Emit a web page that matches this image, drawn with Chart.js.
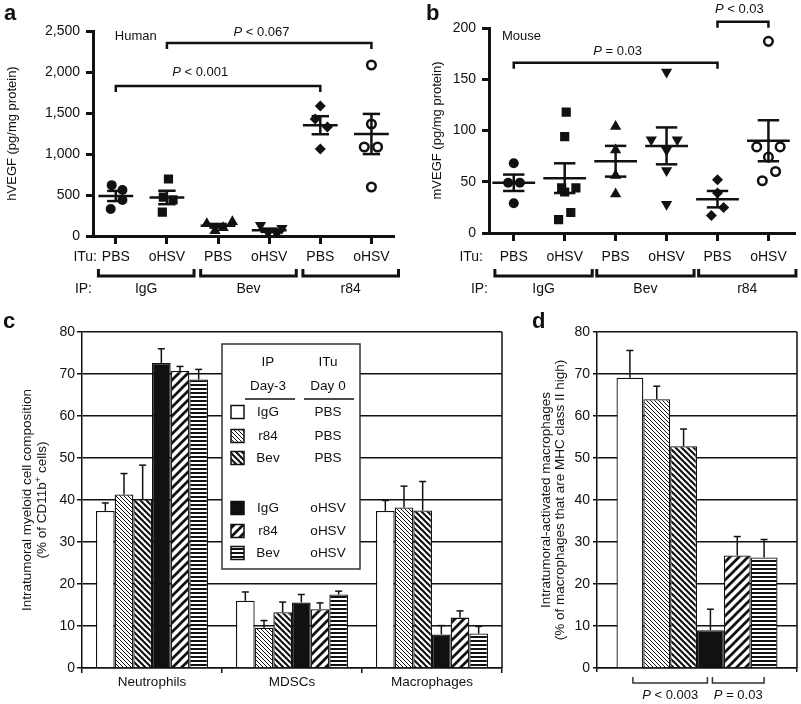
<!DOCTYPE html>
<html>
<head>
<meta charset="utf-8">
<script src="https://cdn.jsdelivr.net/npm/chart.js@4.4.1/dist/chart.umd.min.js"></script>
<style>
  html, body { margin: 0; padding: 0; background: #fff; }
  #fig { position: relative; width: 801px; height: 704px; overflow: hidden; background: #fff; }
  #fig canvas { position: absolute; }
</style>
</head>
<body>
<div id="fig">
  <canvas id="cvA" width="400" height="320" style="left:0;top:0;width:400px;height:320px"></canvas>
  <canvas id="cvB" width="401" height="320" style="left:400px;top:0;width:401px;height:320px"></canvas>
  <canvas id="cvC" width="510" height="404" style="left:0;top:300px;width:510px;height:404px"></canvas>
  <canvas id="cvD" width="291" height="404" style="left:510px;top:300px;width:291px;height:404px"></canvas>
</div>
<script>
// ---- data ----
const ituLabels = ["PBS", "oHSV", "PBS", "oHSV", "PBS", "oHSV"];
const ipLabels = ["IgG", "Bev", "r84"];

// a: human VEGF, one list per group (IgG/PBS, IgG/oHSV, Bev/PBS, Bev/oHSV, r84/PBS, r84/oHSV)
const aPoints = [
  [620, 560, 440, 330],
  [695, 475, 440, 292],
  [150, 65, 100, 175],
  [130, 40, 25, 95],
  [1585, 1427, 1330, 1061],
  [2085, 1366, 1085, 1085, 598],
];
const aJitter = [
  [-0.08, 0.13, 0.13, -0.1],
  [0.03, -0.07, 0.12, -0.09],
  [-0.22, -0.06, 0.1, 0.28],
  [-0.17, -0.02, 0.15, 0.25],
  [0, -0.1, 0.14, 0],
  [0, 0, -0.14, 0.12, 0],
];
const aMean = [488, 470, 125, 70, 1351, 1244];
const aSem = [62, 82, 22, 20, 110, 245];

// b: mouse VEGF
const bPoints = [
  [68, 49, 49, 29],
  [118, 94, 44, 40, 44, 20, 13],
  [104, 81, 56, 38],
  [157, 91, 91, 81, 61, 28],
  [52, 39, 25, 17],
  [187, 84, 84, 74, 60, 51],
];
const bJitter = [
  [0, -0.11, 0.12, 0],
  [0.03, 0, -0.06, 0, 0.22, 0.12, -0.12],
  [0, 0, 0, 0],
  [0, -0.3, 0.21, 0, 0, 0],
  [0, 0, 0.12, -0.12],
  [0, -0.23, 0.23, 0, 0.14, -0.12],
];
const bMean = [49, 53.5, 70, 85, 33, 90];
const bSem = [8, 14.5, 15, 18, 8, 20];

// c: myeloid composition, one row per treatment
const cCats = ["Neutrophils", "MDSCs", "Macrophages"];
const cMeans = [
  [37.4, 16.0, 37.4],
  [41.3, 9.6, 38.2],
  [40.2, 13.3, 37.5],
  [72.6, 15.6, 8.0],
  [70.7, 14.0, 12.0],
  [68.7, 17.5, 8.2],
];
const cErr = [
  [1.9, 2.1, 2.5],
  [5.0, 1.7, 5.1],
  [8.1, 2.4, 6.9],
  [3.4, 1.9, 2.1],
  [1.1, 1.5, 1.6],
  [2.4, 0.8, 1.7],
];

// d: activated macrophages
const dMeans = [69.1, 64.0, 52.8, 9.0, 26.8, 26.3];
const dErr = [6.5, 3.1, 4.1, 5.0, 4.5, 4.3];

const legIP = ["IgG", "r84", "Bev", "IgG", "r84", "Bev"];
const legITu = ["PBS", "PBS", "PBS", "oHSV", "oHSV", "oHSV"];

// ---- style ----
const ink = "#111";
const FONT = '"Liberation Sans", Arial, Helvetica, sans-serif';
Chart.defaults.font.family = FONT;
Chart.defaults.color = ink;

const marks = [
  { style: "circle", r: 5, fill: ink, bw: 0 },
  { style: "rect", r: 6.5, fill: ink, bw: 0 },
  { style: "triangle", r: 6.5, fill: ink, bw: 0 },
  { style: "triangle", r: 6.5, fill: ink, bw: 0, rot: 180 },
  { style: "rectRot", r: 5.5, fill: ink, bw: 0 },
  { style: "circle", r: 4.3, fill: "#fff", bw: 2.5 },
];

function hatch(size, w, dir) {
  const c = document.createElement("canvas"); c.width = c.height = size;
  const g = c.getContext("2d");
  g.fillStyle = "#fff"; g.fillRect(0, 0, size, size);
  g.fillStyle = ink; g.strokeStyle = ink; g.lineWidth = w;
  if (dir === "h") { g.fillRect(0, 0, size, w); }
  else {
    for (let k = -2; k <= 2; k++) {
      const c0 = k * size; g.beginPath();
      if (dir === "\\") { g.moveTo(c0 - size, -size); g.lineTo(c0 + 2 * size, 2 * size); }
      else { g.moveTo(c0 + size, -size); g.lineTo(c0 - 2 * size, 2 * size); }
      g.stroke();
    }
  }
  return g.createPattern(c, "repeat");
}
const fills = ["#fff", hatch(4, 1, "\\"), hatch(6, 2.1, "\\"), ink, hatch(9, 2.7, "/"), hatch(4, 2, "h")];

// ---- helpers ----
function seg(ctx, x1, y1, x2, y2) { ctx.beginPath(); ctx.moveTo(x1, y1); ctx.lineTo(x2, y2); ctx.stroke(); }
function pLabel(ctx, rest, cx, cy, size) {
  const it = `italic ${size}px ${FONT}`, rg = `${size}px ${FONT}`;
  ctx.font = it; const w1 = ctx.measureText("P").width;
  ctx.font = rg; const w2 = ctx.measureText(rest).width;
  const x = cx - (w1 + w2) / 2;
  ctx.textAlign = "left"; ctx.textBaseline = "middle";
  ctx.font = it; ctx.fillText("P", x, cy);
  ctx.font = rg; ctx.fillText(rest, x + w1, cy);
}
// rotated multi-line title, each line a list of [text, superscript?]
function vTitle(ctx, lines, xs, cy, size) {
  lines.forEach((parts, li) => {
    ctx.save(); ctx.translate(xs[li], cy); ctx.rotate(-Math.PI / 2);
    ctx.textBaseline = "middle"; ctx.textAlign = "left";
    const fnt = (sup) => `${sup ? size * 0.7 : size}px ${FONT}`;
    let w = 0; parts.forEach(([t, sup]) => { ctx.font = fnt(sup); w += ctx.measureText(t).width; });
    let x = -w / 2;
    parts.forEach(([t, sup]) => { ctx.font = fnt(sup); ctx.fillText(t, x, sup ? -4 : 0); x += ctx.measureText(t).width; });
    ctx.restore();
  });
}

// ---- a/b: scatter with mean ± SEM ----
function scatterDecor(o) {
  return {
    id: "scatterDecor",
    afterDatasetsDraw(chart) {
      const { ctx, scales: { x, y } } = chart;
      ctx.save(); ctx.strokeStyle = ink; ctx.lineWidth = 2.5;
      o.mean.forEach((m, g) => {
        const ym = y.getPixelForValue(m), yt = y.getPixelForValue(m + o.sem[g]), yb = y.getPixelForValue(m - o.sem[g]);
        seg(ctx, x.getPixelForValue(g - o.meanW), ym, x.getPixelForValue(g + o.meanW), ym);
        seg(ctx, x.getPixelForValue(g), yt, x.getPixelForValue(g), yb);
        [yt, yb].forEach((yy) => seg(ctx, x.getPixelForValue(g - o.capW), yy, x.getPixelForValue(g + o.capW), yy));
      });
      ctx.restore();
    },
    afterDraw(chart) {
      const { ctx, scales: { x, y }, chartArea } = chart;
      ctx.save(); ctx.fillStyle = ink; ctx.strokeStyle = ink;
      ctx.font = `bold 22px ${FONT}`; ctx.textAlign = "left"; ctx.textBaseline = "alphabetic";
      ctx.fillText(o.letter, o.letterX, 20);
      vTitle(ctx, [[[o.title]]], [o.titleX], (chartArea.top + chartArea.bottom) / 2, 13);
      ctx.font = `13px ${FONT}`; ctx.textAlign = "left"; ctx.textBaseline = "middle";
      ctx.fillText(o.species, x.getPixelForValue(o.speciesAt[0]), y.getPixelForValue(o.speciesAt[1]));
      ctx.lineWidth = 2.5;
      o.pairs.forEach((p) => {
        const x1 = x.getPixelForValue(p.from), x2 = x.getPixelForValue(p.to), yy = y.getPixelForValue(p.at);
        ctx.beginPath(); ctx.moveTo(x1, yy + 6); ctx.lineTo(x1, yy); ctx.lineTo(x2, yy); ctx.lineTo(x2, yy + 6); ctx.stroke();
        pLabel(ctx, p.text, x.getPixelForValue(p.tx), y.getPixelForValue(p.ty), 13);
      });
      ctx.font = `14px ${FONT}`; ctx.textBaseline = "middle"; ctx.textAlign = "center";
      ituLabels.forEach((t, i) => ctx.fillText(t, x.getPixelForValue(i), 257));
      ctx.textAlign = "right"; ctx.fillText("ITu:", o.ituX, 257); ctx.fillText("IP:", o.ipX, 289);
      ctx.lineWidth = 3;
      ipLabels.forEach((t, g) => {
        const x1 = x.getPixelForValue(2 * g + o.ipFrom), x2 = x.getPixelForValue(2 * g + o.ipTo);
        ctx.beginPath(); ctx.moveTo(x1, 269); ctx.lineTo(x1, 276); ctx.lineTo(x2, 276); ctx.lineTo(x2, 269); ctx.stroke();
        ctx.textAlign = "center"; ctx.fillText(t, (x1 + x2) / 2, 289);
      });
      ctx.restore();
    },
  };
}

function scatterChart(id, o) {
  return new Chart(document.getElementById(id), {
    type: "scatter",
    data: {
      datasets: o.points.map((vals, g) => ({
        data: vals.map((v, k) => ({ x: g + o.jitter[g][k], y: v })),
        pointStyle: marks[g].style, pointRotation: marks[g].rot || 0, pointRadius: marks[g].r,
        pointBackgroundColor: marks[g].fill, pointBorderColor: ink, pointBorderWidth: marks[g].bw,
      })),
    },
    options: {
      responsive: false, animation: false, events: [],
      layout: { padding: { top: o.top, right: 4, bottom: 0, left: 0 } },
      plugins: { legend: { display: false }, tooltip: { enabled: false } },
      scales: {
        x: {
          type: "linear", min: o.xMin, max: o.xMax,
          afterFit: (s) => { s.height = o.xH; },
          afterBuildTicks: (s) => { s.ticks = ituLabels.map((_, i) => ({ value: i })); },
          ticks: { display: false },
          grid: { drawOnChartArea: false, drawTicks: true, tickLength: 8, lineWidth: 3, color: ink },
          border: { width: 3, color: ink },
        },
        y: {
          min: 0, max: o.yMax,
          afterFit: (s) => { s.width = o.yW; },
          ticks: { stepSize: o.step, padding: 6, color: ink, font: { size: 14 }, callback: (v) => v.toLocaleString("en-US") },
          grid: { drawOnChartArea: false, tickLength: 7, lineWidth: 3, color: ink },
          border: { width: 3, color: ink },
        },
      },
    },
    plugins: [scatterDecor(o)],
  });
}

scatterChart("cvA", {
  points: aPoints, jitter: aJitter, mean: aMean, sem: aSem,
  top: 31, xH: 84, yW: 93, xMin: -0.446, xMax: 5.426, yMax: 2500, step: 500, meanW: 0.34, capW: 0.17,
  letter: "a", letterX: 4, title: "hVEGF (pg/mg protein)", titleX: 12,
  species: "Human", speciesAt: [-0.02, 2439],
  pairs: [
    { from: 0, to: 4, at: 1830, text: " < 0.001", tx: 1.65, ty: 1995 },
    { from: 1, to: 5, at: 2354, text: " < 0.067", tx: 2.85, ty: 2488 },
  ],
  ituX: 97, ipX: 92, ipFrom: -0.34, ipTo: 1.53,
});

scatterChart("cvB", {
  points: bPoints, jitter: bJitter, mean: bMean, sem: bSem,
  top: 28, xH: 87, yW: 89, xMin: -0.486, xMax: 5.506, yMax: 200, step: 50, meanW: 0.42, capW: 0.21,
  letter: "b", letterX: 26, title: "mVEGF (pg/mg protein)", titleX: 37,
  species: "Mouse", speciesAt: [-0.23, 192],
  pairs: [
    { from: 0, to: 4, at: 166, text: " = 0.03", tx: 2.04, ty: 177 },
    { from: 4, to: 5, at: 206, text: " < 0.03", tx: 4.43, ty: 218 },
  ],
  ituX: 83, ipX: 88, ipFrom: -0.37, ipTo: 1.54,
});

// ---- c/d: patterned bars with upper error bars ----
function barDecor(o) {
  return {
    id: "barDecor",
    afterDatasetsDraw(chart) {
      const { ctx, scales: { y }, chartArea } = chart;
      ctx.save(); ctx.strokeStyle = ink; ctx.lineWidth = 1.5;
      chart.data.datasets.forEach((ds, k) => {
        chart.getDatasetMeta(k).data.forEach((bar, i) => {
          const top = y.getPixelForValue(ds.data[i] + o.err[k][i]);
          seg(ctx, bar.x, bar.y, bar.x, top);
          seg(ctx, bar.x - 3.5, top, bar.x + 3.5, top);
        });
      });
      seg(ctx, chartArea.right, chartArea.top, chartArea.right, chartArea.bottom);
      ctx.restore();
    },
    afterDraw(chart) {
      const { ctx, chartArea } = chart;
      ctx.save(); ctx.fillStyle = ink; ctx.strokeStyle = ink;
      ctx.font = `bold 22px ${FONT}`; ctx.textAlign = "left"; ctx.textBaseline = "alphabetic";
      ctx.fillText(o.letter, o.letterX, 28);
      vTitle(ctx, o.title, o.titleX, (chartArea.top + chartArea.bottom) / 2, 13.5);
      if (o.after) o.after(chart, ctx);
      ctx.restore();
    },
  };
}

function barChart(id, o) {
  return new Chart(document.getElementById(id), {
    type: "bar",
    data: {
      labels: o.labels,
      datasets: o.series.map((vals, k) => ({
        label: legIP[k] + " " + legITu[k], data: vals,
        backgroundColor: fills[k], borderColor: ink, borderWidth: 1.3, borderSkipped: "start",
        categoryPercentage: o.cp, barPercentage: 1,
      })),
    },
    options: {
      responsive: false, animation: false, events: [],
      layout: { padding: { top: 32, right: o.padR, bottom: 0, left: 0 } },
      plugins: { legend: { display: false }, tooltip: { enabled: false } },
      scales: {
        x: {
          afterFit: (s) => { s.height = 36; },
          ticks: { padding: 1, color: ink, font: { size: 13.5 } },
          grid: { offset: true, drawOnChartArea: false, tickLength: o.xTick, lineWidth: 1.5, color: ink },
          border: { width: 1.5, color: ink },
        },
        y: {
          min: 0, max: 80,
          afterFit: (s) => { s.width = o.yW; },
          ticks: { stepSize: 10, padding: o.yPad, color: ink, font: { size: 14 } },
          grid: { color: ink, lineWidth: 1.5, tickLength: o.yTick },
          border: { width: 1.5, color: ink },
        },
      },
    },
    plugins: [barDecor(o)],
  });
}

function drawLegend(chart, ctx) {
  const L = { l: 222, t: 44, r: 360, b: 269, ipX: 268, ituX: 328, rowY: [112, 136, 158, 208, 231, 253] };
  ctx.fillStyle = "#fff"; ctx.fillRect(L.l, L.t, L.r - L.l, L.b - L.t);
  ctx.strokeStyle = "#333"; ctx.lineWidth = 1.5; ctx.strokeRect(L.l, L.t, L.r - L.l, L.b - L.t);
  ctx.fillStyle = ink; ctx.strokeStyle = ink;
  ctx.font = `13.5px ${FONT}`; ctx.textAlign = "center"; ctx.textBaseline = "middle";
  ctx.fillText("IP", L.ipX, 62); ctx.fillText("ITu", L.ituX, 62);
  ctx.fillText("Day-3", L.ipX, 86); ctx.fillText("Day 0", L.ituX, 86);
  seg(ctx, 245, 99, 295, 99); seg(ctx, 304, 99, 354, 99);
  L.rowY.forEach((yy, k) => {
    ctx.fillStyle = fills[k]; ctx.fillRect(231, yy - 6.5, 13, 13);
    ctx.lineWidth = 1.5; ctx.strokeRect(231, yy - 6.5, 13, 13);
    ctx.fillStyle = ink;
    ctx.fillText(legIP[k], L.ipX, yy); ctx.fillText(legITu[k], L.ituX, yy);
  });
}

barChart("cvC", {
  labels: cCats, series: cMeans, err: cErr, cp: 0.8, padR: 8, yW: 82, yPad: 2, yTick: 5, xTick: 5,
  letter: "c", letterX: 3, titleX: [27, 42],
  title: [[["Intratumoral myeloid cell composition"]], [["(% of CD11b"], ["+", true], [" cells)"]]],
  after: drawLegend,
});

barChart("cvD", {
  labels: [""], series: dMeans.map((v) => [v]), err: dErr.map((v) => [v]), cp: 0.805, padR: 4, yW: 87, yPad: 3, yTick: 4, xTick: 4,
  letter: "d", letterX: 22, titleX: [36, 50],
  title: [[["Intratumoral-activated macrophages"]], [["(% of macrophages that are MHC class II high)"]]],
  after: (chart, ctx) => {
    const bars = chart.getDatasetMeta(0).data.length ? chart.data.datasets.map((_, k) => chart.getDatasetMeta(k).data[0].x) : [];
    ctx.strokeStyle = "#333"; ctx.lineWidth = 1.5;
    [[bars[0] + 3, bars[3] - 3, " < 0.003"], [bars[3] + 2, bars[5], " = 0.03"]].forEach(([x1, x2, t]) => {
      ctx.beginPath(); ctx.moveTo(x1, 377); ctx.lineTo(x1, 383); ctx.lineTo(x2, 383); ctx.lineTo(x2, 377); ctx.stroke();
      pLabel(ctx, t, (x1 + x2) / 2, 395, 13);
    });
  },
});
</script>
</body>
</html>
